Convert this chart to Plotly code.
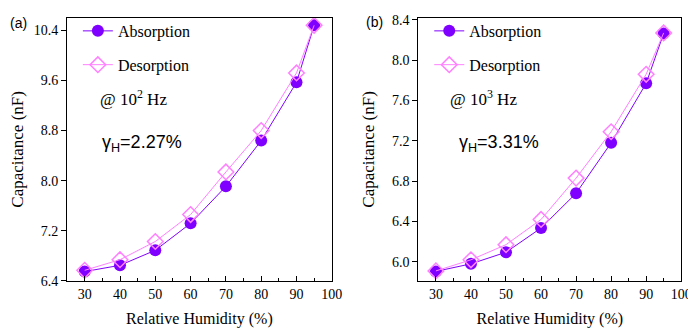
import plotly.graph_objects as go

rh = [30, 40, 50, 60, 70, 80, 90, 95]
abs_a = [6.55, 6.65, 6.89, 7.32, 7.91, 8.64, 9.57, 10.48]
des_a = [6.57, 6.74, 7.03, 7.46, 8.14, 8.80, 9.72, 10.48]
abs_b = [5.905, 5.98, 6.095, 6.335, 6.68, 7.18, 7.77, 8.265]
des_b = [5.91, 6.02, 6.17, 6.42, 6.83, 7.29, 7.86, 8.27]

x_ticks = [30, 40, 50, 60, 70, 80, 90, 100]
y_ticks_a = [6.4, 7.2, 8.0, 8.8, 9.6, 10.4]
y_ticks_b = [6.0, 6.4, 6.8, 7.2, 7.6, 8.0, 8.4]

C_ABS = "#8000ff"
C_DES = "#ff80ff"
SERIF = "Liberation Serif"
SANS = "Liberation Sans"

fig = go.Figure()

def add_pair(xa, ya, ab, de, leg):
    fig.add_trace(go.Scatter(
        x=rh, y=ab, name="Absorption", mode="lines+markers",
        line=dict(color=C_ABS, width=1),
        marker=dict(symbol="circle", size=12, color=C_ABS),
        xaxis=xa, yaxis=ya, legend=leg, legendgroup=leg + "a"))
    fig.add_trace(go.Scatter(
        x=rh, y=de, name="Desorption", mode="lines+markers",
        line=dict(color=C_DES, width=1),
        marker=dict(symbol="diamond-open", size=12, color=C_DES, line=dict(width=1.5)),
        xaxis=xa, yaxis=ya, legend=leg, legendgroup=leg + "d"))

add_pair("x", "y", abs_a, des_a, "legend")
add_pair("x2", "y2", abs_b, des_b, "legend2")

xcommon = dict(range=[25, 100], tickvals=x_ticks, ticks="inside", ticklen=5,
               tickcolor="black", showline=True, linecolor="black", linewidth=1,
               mirror=True, showgrid=False, zeroline=False,
               tickfont=dict(family=SERIF, size=14, color="black"),
               minor=dict(dtick=5, tick0=0, ticks="inside", ticklen=3, tickcolor="black"),
               title=dict(text="Relative Humidity (%)", font=dict(family=SERIF, size=16, color="black"), standoff=12))
ycommon = dict(ticks="outside", ticklen=5, tickcolor="black", showline=True,
               linecolor="black", linewidth=1, mirror=True, showgrid=False, zeroline=False,
               tickfont=dict(family=SERIF, size=14, color="black"))

def ytitle(standoff):
    return dict(text="Capacitance (nF)", font=dict(family=SERIF, size=17, color="black"), standoff=standoff)

W, H = 696, 329
ybot, ytop = 1 - 279 / H, 1 - 5 / H

fig.update_layout(
    width=W, height=H, margin=dict(l=0, r=0, t=0, b=0),
    plot_bgcolor="white", paper_bgcolor="white",
    font=dict(family=SERIF, color="black"),
    xaxis=dict(domain=[60 / W, 329 / W], anchor="y", **xcommon),
    yaxis=dict(domain=[ybot, ytop], anchor="x", range=[6.4, 10.6], tickvals=y_ticks_a,
               ticktext=[f"{v:.1f}" for v in y_ticks_a], title=ytitle(9), **ycommon),
    xaxis2=dict(domain=[417 / W, 684 / W], anchor="y2", **xcommon),
    yaxis2=dict(domain=[ybot, ytop], anchor="x2", range=[5.81, 8.42], tickvals=y_ticks_b,
                ticktext=[f"{v:.1f}" for v in y_ticks_b], title=ytitle(13), **ycommon),
    legend=dict(x=71 / W, y=1 - 1 / H, xanchor="left", yanchor="top",
                bgcolor="rgba(0,0,0,0)", tracegroupgap=10, traceorder="grouped",
                font=dict(family=SERIF, size=16, color="black")),
    legend2=dict(x=428 / W, y=1 - 1 / H, xanchor="left", yanchor="top",
                 bgcolor="rgba(0,0,0,0)", tracegroupgap=10, traceorder="grouped",
                 font=dict(family=SERIF, size=16, color="black")),
)

annos = [
    dict(x=0, y=1 - 10 / H, text="(a)", font=dict(family=SANS, size=14)),
    dict(x=362 / W, y=1 - 9 / H, text="(b)", font=dict(family=SANS, size=14)),
    dict(x=91 / W, y=1 - 89 / H, text="@ 10<sup>2</sup> Hz", font=dict(family=SERIF, size=17)),
    dict(x=447 / W, y=1 - 89 / H, text="@ 10<sup>3</sup> Hz", font=dict(family=SERIF, size=17)),
    dict(x=93 / W, y=1 - 136 / H, text="γ<sub>H</sub>=2.27%", font=dict(family=SANS, size=18)),
    dict(x=456 / W, y=1 - 136 / H, text="γ<sub>H</sub>=3.31%", font=dict(family=SANS, size=18)),
]
for a in annos:
    a["font"]["color"] = "black"
    fig.add_annotation(xref="paper", yref="paper", xanchor="left", yanchor="middle",
                       showarrow=False, **a)

fig.write_html("out.html")
